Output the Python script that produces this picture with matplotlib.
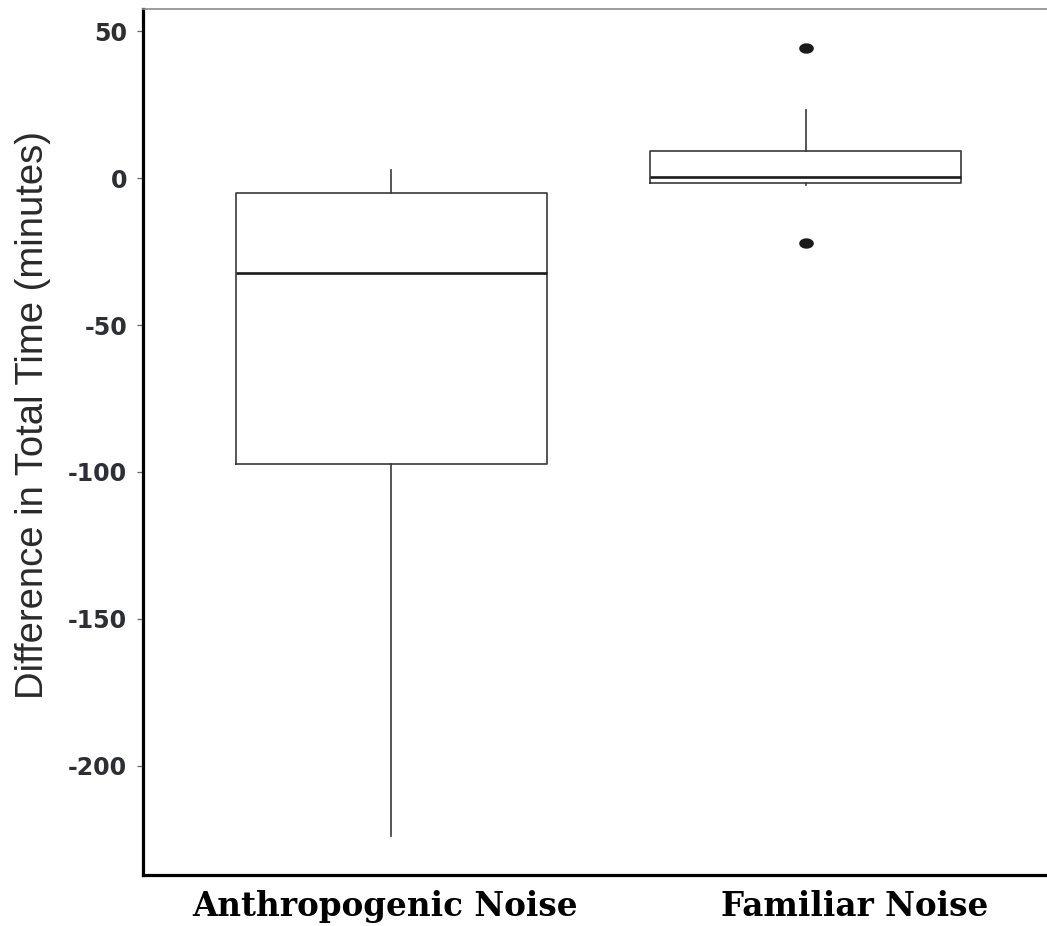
import numpy as np
import matplotlib.pyplot as plt
from matplotlib.path import Path
from matplotlib.transforms import ScaledTranslation

# --- Datos (minutos) ---
grupos = ["Anthropogenic Noise", "Familiar Noise"]
q1 = [-97.3, -1.6]
mediana = [-32.3, 0.2]
q3 = [-5.1, 9.2]
bigote_inf = [-224.0, -2.4]
bigote_sup = [2.7, 23.1]
atipicos = [[], [44.2, -22.1]]
yticks = [50, 0, -50, -100, -150, -200]

stats = []
for i, g in enumerate(grupos):
    stats.append(dict(label=g, med=mediana[i], q1=q1[i], q3=q3[i],
                      whislo=bigote_inf[i], whishi=bigote_sup[i],
                      fliers=np.array(atipicos[i])))

# marcador elíptico para los atípicos
t = np.linspace(0, 2 * np.pi, 60)
elipse = Path(np.column_stack([np.cos(t), 0.68 * np.sin(t)]), closed=True)

fig = plt.figure(figsize=(10.47, 9.26), dpi=100)
ax = fig.add_axes([143 / 1047, 51 / 926, (1054 - 143) / 1047, (875 - 9) / 926])

gris = "#3a3a3a"
ax.bxp(stats, positions=[1, 2], widths=0.75, showcaps=False,
       boxprops=dict(color=gris, lw=1.2),
       whiskerprops=dict(color=gris, lw=1.2),
       medianprops=dict(color="#1a1a1a", lw=1.9),
       flierprops=dict(marker=elipse, markersize=9.5, markerfacecolor="#1a1a1a",
                       markeredgecolor="#1a1a1a", linestyle="none"))

ax.set_xlim(0.4, 2.6)
ax.set_ylim(-237.1, 57.5)

# ejes: izquierdo e inferior gruesos, superior fino gris
ax.spines["right"].set_visible(False)
ax.spines["top"].set_color("#8c8c8c")
ax.spines["top"].set_linewidth(1.2)
ax.spines["left"].set_linewidth(2.3)
ax.spines["bottom"].set_linewidth(2.3)

ax.set_yticks(yticks)
ax.set_yticklabels([str(v) for v in yticks], fontfamily="DejaVu Sans",
                   fontweight="bold", fontsize=17, color="#2e2e36")
ax.tick_params(axis="y", length=4.5, width=0.9, color="#666666", pad=7)

ax.set_xticks([1, 2])
ax.set_xticklabels(grupos, fontfamily="DejaVu Serif", fontweight="bold",
                   fontsize=23.5, color="black")
ax.tick_params(axis="x", length=0, pad=11)
desplaz = [-6, 49]
for lab, dx in zip(ax.get_xticklabels(), desplaz):
    lab.set_transform(lab.get_transform() + ScaledTranslation(dx / 100, 0, fig.dpi_scale_trans))

ax.set_ylabel("Difference in Total Time (minutes)", fontfamily="Liberation Sans",
              fontsize=27.5, color="#2a2a2a", va="center")
ax.yaxis.set_label_coords(-110 / 911, (875 - 415) / 866)

fig.savefig("out.png", dpi=100)
